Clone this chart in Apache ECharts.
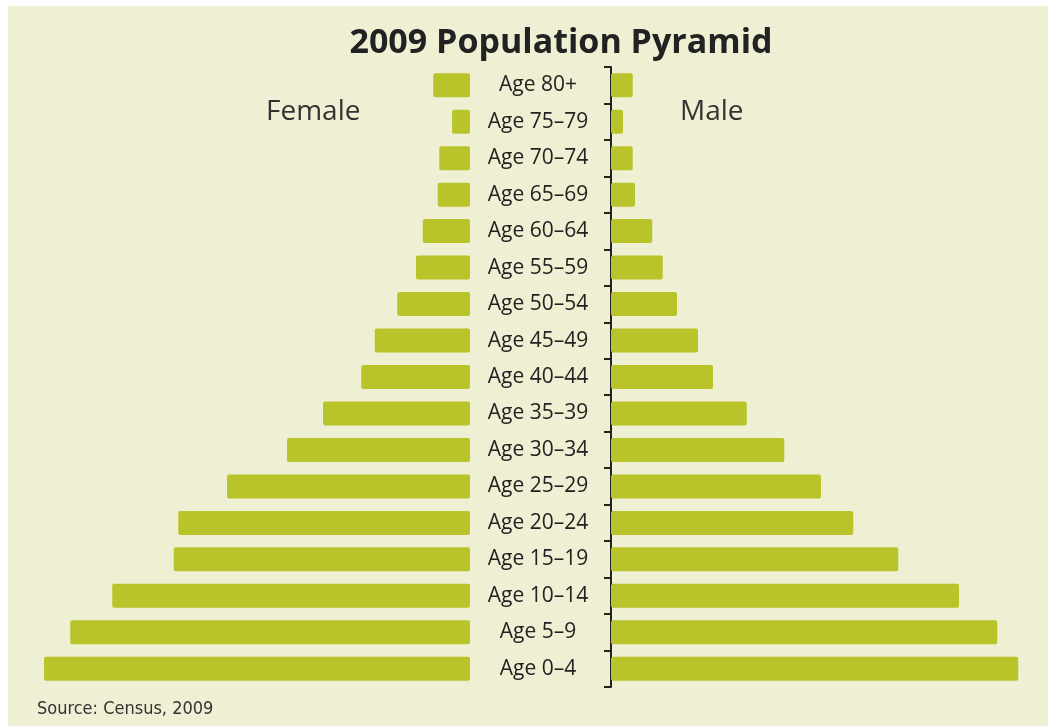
<!DOCTYPE html>
<html>
<head>
<meta charset="utf-8">
<title>2009 Population Pyramid</title>
<script src="https://cdn.jsdelivr.net/npm/echarts@6/dist/echarts.min.js"></script>
<style>
  html, body { margin: 0; padding: 0; background: #ffffff; }
  #chart { width: 1048px; height: 726px; }
</style>
</head>
<body>
<div id="chart"></div>
<script>
// Age groups, listed from the oldest (top) to the youngest (bottom)
const ageGroups = [
  'Age 80+', 'Age 75–79', 'Age 70–74', 'Age 65–69', 'Age 60–64',
  'Age 55–59', 'Age 50–54', 'Age 45–49', 'Age 40–44', 'Age 35–39',
  'Age 30–34', 'Age 25–29', 'Age 20–24', 'Age 15–19', 'Age 10–14',
  'Age 5–9', 'Age 0–4'
];

// Share of population per age group
const femaleValues = [
  0.49, 0.24, 0.41, 0.43, 0.63, 0.72, 0.97, 1.27, 1.45,
  1.96, 2.44, 3.24, 3.89, 3.95, 4.77, 5.33, 5.68
];
const maleValues = [
  0.29, 0.16, 0.29, 0.32, 0.55, 0.69, 0.88, 1.16, 1.36,
  1.81, 2.31, 2.80, 3.23, 3.83, 4.64, 5.15, 5.43
];

const valueMax = 5.8;
const barColor = '#b9c42b';
const textFont = '"Open Sans", "Noto Sans", sans-serif';

const chart = echarts.init(document.getElementById('chart'));

chart.setOption({
  backgroundColor: '#ffffff',
  animation: false,
  graphic: [
    {
      type: 'rect',
      z: -10,
      silent: true,
      shape: { x: 8, y: 6, width: 1040, height: 720 },
      style: { fill: '#efefd3' }
    },
    {
      type: 'text',
      left: 266, top: 98,
      style: { text: 'Female', font: '28px ' + textFont, fill: '#333333' }
    },
    {
      type: 'text',
      left: 680, top: 98,
      style: { text: 'Male', font: '28px ' + textFont, fill: '#333333' }
    },
    {
      type: 'text',
      left: 37, top: 700,
      style: {
        text: 'Source: Census, 2009',
        font: '18px "Liberation Sans Narrow", "DejaVu Sans Condensed", sans-serif',
        fill: '#333333'
      }
    }
  ],
  title: {
    text: '2009 Population Pyramid',
    left: 556,
    textAlign: 'center',
    top: 21,
    textStyle: {
      fontFamily: textFont,
      fontWeight: 'bold',
      fontSize: 34,
      color: '#222222'
    }
  },
  grid: [
    { left: 35, top: 67, width: 435, height: 620 },
    { left: 611, top: 67, width: 435, height: 620 }
  ],
  xAxis: [
    { gridIndex: 0, type: 'value', min: 0, max: valueMax, inverse: true, show: false },
    { gridIndex: 1, type: 'value', min: 0, max: valueMax, show: false }
  ],
  yAxis: [
    {
      gridIndex: 0, type: 'category', data: ageGroups, inverse: true, show: false
    },
    {
      gridIndex: 1, type: 'category', data: ageGroups, inverse: true,
      position: 'left',
      axisLine: { show: true, lineStyle: { color: '#222222', width: 2 } },
      axisTick: { show: true, length: 7, lineStyle: { color: '#222222', width: 2 } },
      axisLabel: {
        margin: 73,
        align: 'center',
        fontFamily: textFont,
        fontSize: 21,
        color: '#222222'
      }
    }
  ],
  series: [
    {
      name: 'Female',
      type: 'bar',
      xAxisIndex: 0,
      yAxisIndex: 0,
      data: femaleValues,
      barWidth: 24,
      itemStyle: { color: barColor, borderRadius: 2 }
    },
    {
      name: 'Male',
      type: 'bar',
      xAxisIndex: 1,
      yAxisIndex: 1,
      data: maleValues,
      barWidth: 24,
      itemStyle: { color: barColor, borderRadius: 2 },
      z: 1
    }
  ]
});
</script>
</body>
</html>
